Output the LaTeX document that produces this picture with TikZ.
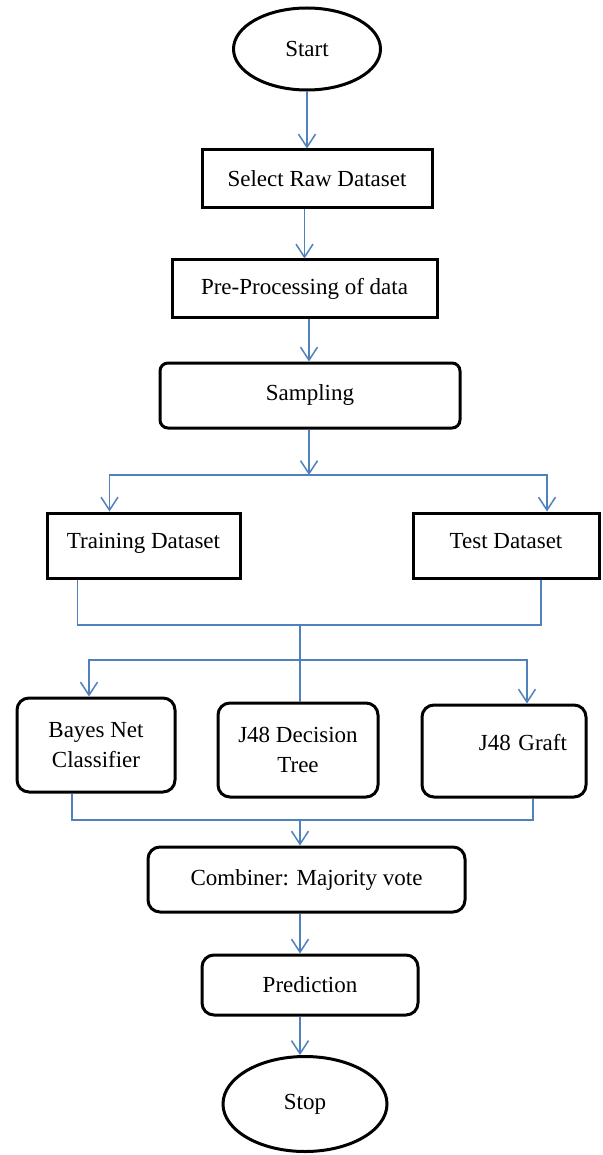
\documentclass[tikz,border=0pt]{standalone}
\usepackage{fontspec}
\setmainfont{Liberation Serif}
\usetikzlibrary{arrows.meta,shapes.geometric}
\definecolor{linkblue}{RGB}{79,129,189}

\begin{document}
\begin{tikzpicture}[x=1pt,y=-1pt,
	box/.style={draw,line width=3pt,inner sep=0pt,align=center,font=\fontsize{23}{30}\selectfont},
	rbox/.style={box,rounded corners=12pt},
	term/.style={box,ellipse},
	link/.style={draw=linkblue,line width=1.5pt},
	flow/.style={link,-{Straight Barb[length=13pt,width=17pt,line width=1.5pt]}}]
			\useasboundingbox (0,0) rectangle (602,1155);

			\node[term,minimum width=147,minimum height=82] (start) at (307,49) {Start};
			\node[box,minimum width=230,minimum height=58] (select) at (317,179) {Select Raw Dataset};
			\node[box,minimum width=265,minimum height=57] (preproc) at (304.5,288.5) {Pre-Processing of data};
			\node[box,rounded corners=8pt,minimum width=300,minimum height=65] (sampling) at (310,395.5) {Sampling};
			\node[box,minimum width=193,text height=35pt,text depth=30pt] (train) at (143.5,545.5) {Training Dataset};
			\node[box,minimum width=186,text height=35pt,text depth=30pt] (test) at (506,545.5) {Test Dataset};
			\node[rbox,minimum width=158,minimum height=94] (bayes) at (96,745) {Bayes Net\\Classifier};
			\node[rbox,minimum width=160,minimum height=94] (jtree) at (298,750) {J48 Decision\\Tree};
			\node[rbox,minimum width=164,text width=126,align=right,text height=45pt,text depth=47pt] (jgraft) at (504,751) {J48 Graft};
			\node[rbox,minimum width=317,minimum height=65] (combiner) at (306.5,879.5) {Combiner: Majority vote};
			\node[rbox,minimum width=216,minimum height=60] (predict) at (310,985) {Prediction};
			\node[term,minimum width=164,minimum height=95] (stop) at (305,1104) {Stop};

			\coordinate (split) at (309,475);
			\coordinate (merge) at (300,625);
			\coordinate (fork) at (300,660);
			\coordinate (join) at (300,820);

			\draw[flow] (start.south) -- (start.south |- select.north);
			\draw[flow] (select.south -| preproc.north) -- (preproc.north);
			\draw[flow] (preproc.south -| split) -- (sampling.north -| split);
			\draw[flow] (sampling.south -| split) -- (split);
			\draw[flow] (split) -| ([xshift=-34]train.north);
			\draw[flow] (split) -| ([xshift=41]test.north);
			\draw[link] ([xshift=-66]train.south) |- (merge) -| ([xshift=35]test.south);
			\draw[link] (merge) -- (jtree.north -| merge);
			\draw[flow] (fork) -| ([xshift=-7]bayes.north);
			\draw[flow] (fork) -| ([xshift=23]jgraft.north);
			\draw[link] ([xshift=-24]bayes.south) |- (join) -| ([xshift=29]jgraft.south);
			\draw[flow] (join) -- (combiner.north -| join);
			\draw[flow] (combiner.south -| join) -- (predict.north -| join);
			\draw[flow] (predict.south -| join) -- (stop.north -| join);
		\end{tikzpicture}
\end{document}
